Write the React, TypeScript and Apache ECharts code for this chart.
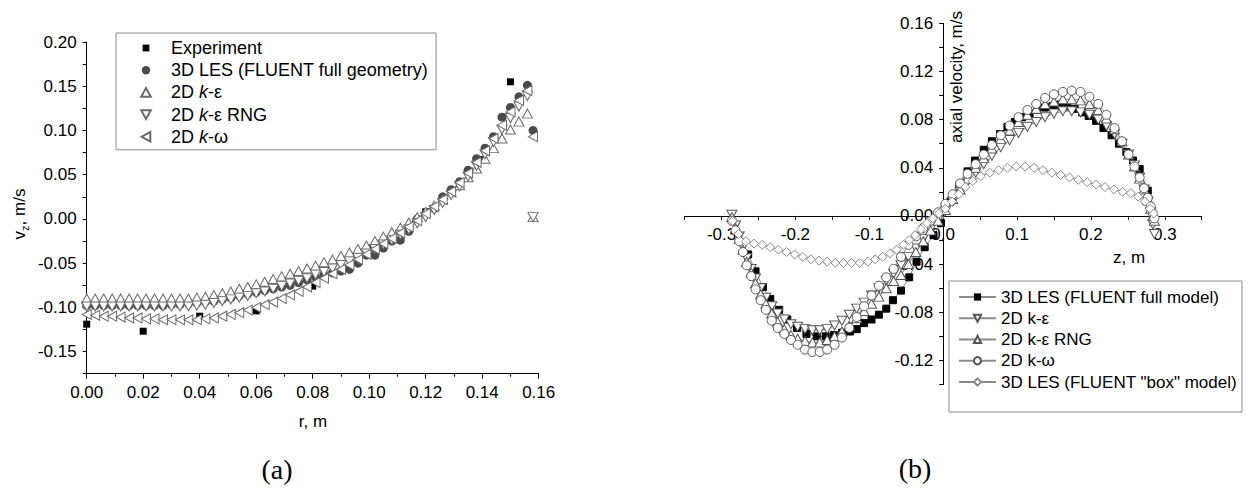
import React, { useEffect, useRef } from 'react';
import * as echarts from 'echarts';

const FONT = '"Liberation Sans", Arial, Helvetica, sans-serif';
const SERIF = '"Liberation Serif", "Times New Roman", serif';

// ---------- Panel (a): v_z vs r ----------
const R_EXP = [0, 0.02, 0.04, 0.06, 0.08, 0.10, 0.12, 0.14, 0.15];
const V_EXP = [-0.119, -0.127, -0.110, -0.104, -0.076, -0.033, 0.008, 0.067, 0.155];

const R_MODEL = [0, 0.003, 0.006, 0.009, 0.012, 0.015, 0.018, 0.021, 0.024, 0.027, 0.03, 0.033, 0.036, 0.039,
  0.042, 0.045, 0.048, 0.051, 0.054, 0.057, 0.06, 0.063, 0.066, 0.069, 0.072, 0.075, 0.078, 0.081, 0.084,
  0.087, 0.09, 0.093, 0.096, 0.099, 0.102, 0.105, 0.108, 0.111, 0.114, 0.117, 0.12, 0.123, 0.126, 0.129,
  0.132, 0.135, 0.138, 0.141, 0.144, 0.147, 0.15, 0.153, 0.156, 0.158];

const V_LES_A = [-0.098, -0.098, -0.098, -0.098, -0.098, -0.098, -0.098, -0.098, -0.098, -0.098, -0.097, -0.097,
  -0.096, -0.095, -0.094, -0.093, -0.091, -0.089, -0.087, -0.085, -0.083, -0.081, -0.079, -0.077, -0.075,
  -0.072, -0.069, -0.066, -0.063, -0.061, -0.059, -0.057, -0.050, -0.041, -0.041, -0.033, -0.025, -0.024,
  -0.014, 0.000, 0.006, 0.012, 0.025, 0.033, 0.042, 0.055, 0.068, 0.080, 0.093, 0.115, 0.126, 0.138, 0.151, 0.100];

const V_KE_A = [-0.090, -0.090, -0.090, -0.090, -0.090, -0.090, -0.090, -0.090, -0.090, -0.090, -0.090, -0.090,
  -0.090, -0.089, -0.088, -0.086, -0.084, -0.082, -0.079, -0.077, -0.074, -0.071, -0.068, -0.065, -0.062,
  -0.059, -0.056, -0.053, -0.049, -0.046, -0.042, -0.038, -0.034, -0.030, -0.025, -0.020, -0.015, -0.010,
  -0.004, 0.002, 0.008, 0.015, 0.022, 0.030, 0.038, 0.047, 0.057, 0.068, 0.080, 0.091, 0.101, 0.110, 0.119, 0.002];

const V_RNG_A = [-0.099, -0.099, -0.099, -0.099, -0.099, -0.099, -0.099, -0.099, -0.099, -0.099, -0.099, -0.099,
  -0.099, -0.098, -0.097, -0.095, -0.093, -0.091, -0.089, -0.087, -0.084, -0.082, -0.079, -0.076, -0.073,
  -0.070, -0.067, -0.063, -0.060, -0.056, -0.052, -0.048, -0.044, -0.039, -0.034, -0.029, -0.024, -0.018,
  -0.012, -0.005, 0.002, 0.010, 0.018, 0.027, 0.037, 0.048, 0.060, 0.073, 0.087, 0.101, 0.114, 0.127, 0.139, 0.002];

const V_KW_A = [-0.108, -0.109, -0.110, -0.110, -0.111, -0.112, -0.112, -0.113, -0.113, -0.114, -0.114, -0.114,
  -0.114, -0.114, -0.113, -0.112, -0.110, -0.108, -0.106, -0.103, -0.100, -0.097, -0.094, -0.090, -0.086,
  -0.082, -0.077, -0.072, -0.067, -0.062, -0.057, -0.052, -0.046, -0.040, -0.034, -0.028, -0.022, -0.016,
  -0.009, -0.002, 0.006, 0.014, 0.022, 0.031, 0.041, 0.052, 0.064, 0.077, 0.091, 0.106, 0.121, 0.134, 0.145, 0.093];

// ---------- Panel (b): axial velocity vs z ----------
const Z_FULL = [-0.264, -0.254, -0.244, -0.234, -0.222, -0.211, -0.198, -0.185, -0.171, -0.159, -0.148, -0.137,
  -0.126, -0.117, -0.107, -0.097, -0.087, -0.077, -0.068, -0.057, -0.046, -0.036, -0.025, -0.013, -0.003,
  0.010, 0.022, 0.033, 0.043, 0.055, 0.066, 0.077, 0.087, 0.097, 0.107, 0.117, 0.127, 0.138, 0.148, 0.158,
  0.168, 0.178, 0.188, 0.197, 0.207, 0.217, 0.228, 0.238, 0.248, 0.257, 0.266, 0.277];
const V_FULL = [-0.032, -0.046, -0.059, -0.069, -0.078, -0.086, -0.093, -0.098, -0.100, -0.100, -0.099, -0.097,
  -0.096, -0.094, -0.089, -0.086, -0.082, -0.077, -0.070, -0.062, -0.051, -0.038, -0.026, -0.016, -0.006,
  0.012, 0.025, 0.037, 0.046, 0.055, 0.062, 0.068, 0.074, 0.078, 0.082, 0.085, 0.088, 0.090, 0.091, 0.092,
  0.091, 0.089, 0.086, 0.083, 0.079, 0.073, 0.067, 0.060, 0.053, 0.046, 0.039, 0.021];

const Z_MODEL = [-0.286, -0.281, -0.276, -0.271, -0.266, -0.260, -0.254, -0.247, -0.240, -0.232, -0.224, -0.215,
  -0.206, -0.197, -0.187, -0.177, -0.167, -0.157, -0.147, -0.137, -0.127, -0.117, -0.107, -0.097, -0.087,
  -0.077, -0.067, -0.057, -0.047, -0.037, -0.027, -0.017, -0.007, 0.003, 0.013, 0.023, 0.033, 0.044, 0.055,
  0.066, 0.078, 0.090, 0.102, 0.114, 0.126, 0.138, 0.150, 0.162, 0.174, 0.186, 0.198, 0.210, 0.221, 0.232,
  0.242, 0.251, 0.259, 0.266, 0.272, 0.277, 0.281, 0.284, 0.286];

const V_KE_B = [0.001, -0.008, -0.017, -0.026, -0.035, -0.044, -0.052, -0.060, -0.068, -0.075, -0.081, -0.086,
  -0.090, -0.092, -0.094, -0.095, -0.095, -0.094, -0.091, -0.087, -0.082, -0.077, -0.072, -0.066, -0.060,
  -0.054, -0.048, -0.041, -0.034, -0.027, -0.019, -0.011, -0.003, 0.004, 0.012, 0.020, 0.028, 0.036, 0.043,
  0.050, 0.057, 0.063, 0.069, 0.074, 0.078, 0.082, 0.085, 0.087, 0.087, 0.086, 0.084, 0.080, 0.075, 0.068,
  0.060, 0.051, 0.042, 0.032, 0.022, 0.012, 0.003, -0.007, -0.015];

const V_RNG_B = [-0.001, -0.010, -0.019, -0.028, -0.038, -0.047, -0.056, -0.065, -0.073, -0.081, -0.088, -0.094,
  -0.099, -0.102, -0.104, -0.105, -0.105, -0.103, -0.100, -0.096, -0.091, -0.085, -0.079, -0.073, -0.067,
  -0.060, -0.054, -0.049, -0.040, -0.030, -0.021, -0.012, -0.004, 0.005, 0.014, 0.022, 0.031, 0.040, 0.048,
  0.056, 0.064, 0.071, 0.078, 0.084, 0.089, 0.093, 0.095, 0.097, 0.097, 0.096, 0.093, 0.088, 0.081, 0.072,
  0.062, 0.051, 0.041, 0.031, 0.022, 0.013, 0.006, 0.000, -0.004];

const V_KW_B = [-0.004, -0.012, -0.021, -0.030, -0.041, -0.050, -0.061, -0.070, -0.078, -0.087, -0.093, -0.098,
  -0.103, -0.107, -0.111, -0.113, -0.113, -0.111, -0.107, -0.101, -0.093, -0.084, -0.075, -0.066, -0.058,
  -0.051, -0.044, -0.034, -0.024, -0.017, -0.010, -0.004, 0.003, 0.010, 0.018, 0.027, 0.035, 0.043, 0.051,
  0.059, 0.067, 0.075, 0.082, 0.088, 0.093, 0.098, 0.101, 0.103, 0.104, 0.103, 0.099, 0.093, 0.084, 0.073,
  0.062, 0.051, 0.041, 0.032, 0.023, 0.015, 0.008, 0.002, -0.002];

const Z_BOX = [-0.285, -0.277, -0.267, -0.256, -0.245, -0.234, -0.223, -0.212, -0.201, -0.190, -0.179, -0.168,
  -0.157, -0.146, -0.135, -0.124, -0.113, -0.102, -0.092, -0.082, -0.072, -0.063, -0.054, -0.046, -0.038,
  -0.030, -0.022, -0.014, -0.006, 0.003, 0.012, 0.021, 0.030, 0.040, 0.051, 0.063, 0.075, 0.087, 0.099,
  0.111, 0.123, 0.135, 0.147, 0.159, 0.171, 0.183, 0.195, 0.207, 0.219, 0.231, 0.243, 0.254, 0.264, 0.273,
  0.280, 0.285];
const V_BOX = [-0.004, -0.015, -0.021, -0.023, -0.024, -0.026, -0.028, -0.030, -0.032, -0.034, -0.036, -0.037,
  -0.038, -0.039, -0.039, -0.039, -0.039, -0.038, -0.036, -0.034, -0.031, -0.028, -0.024, -0.020, -0.016,
  -0.011, -0.006, -0.002, 0.002, 0.006, 0.012, 0.018, 0.024, 0.029, 0.033, 0.036, 0.038, 0.040, 0.041,
  0.041, 0.040, 0.038, 0.036, 0.034, 0.032, 0.030, 0.028, 0.026, 0.024, 0.022, 0.020, 0.019, 0.016, 0.012,
  0.006, 0.002];

// legend names / display labels
const NAMES_A = ['Experiment', '3D LES (FLUENT full geometry)', '2D k-ε (a)', '2D k-ε RNG (a)', '2D k-ω (a)'];
const LABELS_A = ['Experiment', '3D LES (FLUENT full geometry)', '2D {i|k}-ε', '2D {i|k}-ε RNG', '2D {i|k}-ω'];
const NAMES_B = ['3D LES (FLUENT full model)', '2D k-ε (b)', '2D k-ε RNG (b)', '2D k-ω (b)', '3D LES (FLUENT "box" model)'];
const LABELS_B = ['3D LES (FLUENT full model)', '2D k-ε', '2D k-ε RNG', '2D k-ω', '3D LES (FLUENT "box" model)'];

const zip = (xs: number[], ys: number[]) => xs.map((x, i) => [x, ys[i]]);

const DOWN = 'path://M0,0L10,0L5,8.66Z';
const LEFT = 'path://M8.66,0L8.66,10L0,5Z';

// legend icons drawn inside a 40x10 box (icon centred at x=20)
const ICON_SQ = 'path://M0,0M40,10M16.6,1.6h6.8v6.8h-6.8z';
const ICON_CI = 'path://M0,0M40,10M24.2,5A4.2,4.2,0,1,1,15.8,5A4.2,4.2,0,1,1,24.2,5z';
const ICON_UP = 'path://M0,0M40,10M15.2,9.4L24.8,9.4L20,0.6z';
const ICON_DN = 'path://M0,0M40,10M15.2,0.6L24.8,0.6L20,9.4z';
const ICON_LT = 'path://M0,0M40,10M24.3,0.2L24.3,9.8L15.7,5z';

const isMult = (v: number, step: number) => Math.abs(v / step - Math.round(v / step)) < 1e-6;

const lineStyleBlack = { color: '#000', width: 1 };
const labelBase = { color: '#000', fontSize: 17, fontFamily: FONT };

// grid geometry of panel (b)
const GB = { left: 684.6, top: 23.3, width: 517.1, height: 361.2 };
const X_MIN_B = -0.35, X_MAX_B = 0.35, Y_MIN_B = -0.14, Y_MAX_B = 0.16;

function buildOption() {
  const openA = { color: '#fff', borderColor: '#6a6a6a', borderWidth: 1, opacity: 1 };
  const openB = { color: '#fff', borderColor: '#555', borderWidth: 1, opacity: 1 };
  const lineB = { color: '#8c8c8c', width: 1 };
  // put axes of panel (b) through the origin
  const zeroY = GB.top + GB.height * (Y_MAX_B / (Y_MAX_B - Y_MIN_B));
  const zeroX = GB.left + GB.width * ((0 - X_MIN_B) / (X_MAX_B - X_MIN_B));
  const xOffB = -(GB.top + GB.height - zeroY);
  const yOffB = -(zeroX - GB.left);
  return {
    animation: false,
    backgroundColor: '#fff',
    textStyle: { fontFamily: FONT },
    grid: [
      { left: 86.7, top: 42, width: 452, height: 331.7, containLabel: false },
      { ...GB, containLabel: false },
    ],
    xAxis: [
      {
        type: 'value', gridIndex: 0, min: 0, max: 0.16, interval: 0.02,
        axisLine: { show: true, onZero: false, lineStyle: lineStyleBlack },
        axisTick: { show: true, length: 5, lineStyle: lineStyleBlack },
        minorTick: { show: true, splitNumber: 2, length: 3, lineStyle: lineStyleBlack },
        axisLabel: { ...labelBase, margin: 10, formatter: (v: number) => v.toFixed(2) },
        splitLine: { show: false },
      },
      {
        type: 'value', gridIndex: 1, min: X_MIN_B, max: X_MAX_B, interval: 0.05,
        position: 'bottom', offset: xOffB,
        axisLine: { show: true, onZero: false, lineStyle: lineStyleBlack },
        axisTick: { show: true, length: 4, lineStyle: lineStyleBlack },
        axisLabel: {
          ...labelBase, margin: 10,
          formatter: (v: number) => (isMult(v, 0.1) && Math.abs(v) < 0.34 ? v.toFixed(1) : ''),
        },
        splitLine: { show: false },
      },
    ],
    yAxis: [
      {
        type: 'value', gridIndex: 0, min: -0.175, max: 0.2, interval: 0.025,
        axisLine: { show: true, onZero: false, lineStyle: lineStyleBlack },
        axisTick: { show: true, length: 4, lineStyle: lineStyleBlack },
        axisLabel: { ...labelBase, margin: 10, formatter: (v: number) => (isMult(v, 0.05) ? v.toFixed(2) : '') },
        splitLine: { show: false },
      },
      {
        type: 'value', gridIndex: 1, min: Y_MIN_B, max: Y_MAX_B, interval: 0.02,
        position: 'left', offset: yOffB,
        axisLine: { show: true, onZero: false, lineStyle: lineStyleBlack },
        axisTick: { show: true, length: 4, lineStyle: lineStyleBlack },
        axisLabel: { ...labelBase, margin: 10, formatter: (v: number) => (isMult(v, 0.04) ? v.toFixed(2) : '') },
        splitLine: { show: false },
      },
    ],
    legend: [
      {
        data: [
          { name: NAMES_A[0], icon: ICON_SQ },
          { name: NAMES_A[1], icon: ICON_CI },
          { name: NAMES_A[2], icon: ICON_UP },
          { name: NAMES_A[3], icon: ICON_DN },
          { name: NAMES_A[4], icon: ICON_LT },
        ],
        orient: 'vertical', left: 116, top: 33, selectedMode: false,
        padding: [6, 8, 4, 9], itemWidth: 40, itemHeight: 10, itemGap: 4.2,
        borderColor: '#8a8a8a', borderWidth: 1, backgroundColor: '#fff',
        formatter: (name: string) => LABELS_A[NAMES_A.indexOf(name)],
        textStyle: {
          color: '#000', fontSize: 18, fontFamily: FONT, lineHeight: 18,
          rich: { i: { fontStyle: 'italic', fontSize: 18, fontFamily: FONT, color: '#000', lineHeight: 18 } },
        },
      },
      {
        data: NAMES_B,
        orient: 'vertical', left: 949, top: 281, selectedMode: false,
        padding: [7, 5, 21, 9], itemWidth: 37, itemHeight: 9, itemGap: 3.25,
        borderColor: '#8a8a8a', borderWidth: 1, backgroundColor: '#fff',
        formatter: (name: string) => LABELS_B[NAMES_B.indexOf(name)],
        textStyle: { ...labelBase, lineHeight: 18 },
      },
    ],
    graphic: [
      { type: 'text', x: 313, y: 421, silent: true,
        style: { text: 'r, m', fontSize: 17, fontFamily: FONT, fill: '#000', align: 'center', verticalAlign: 'middle', textAlign: 'center', textVerticalAlign: 'middle' } },
      { type: 'text', x: 277, y: 469, silent: true,
        style: { text: '(a)', fontSize: 28, fontFamily: SERIF, fill: '#000', align: 'center', verticalAlign: 'middle', textAlign: 'center', textVerticalAlign: 'middle' } },
      { type: 'text', x: 19, y: 214, rotation: Math.PI / 2, silent: true,
        style: {
          text: '{m|v}{s|z}{m|, m/s}', fill: '#000', align: 'center', verticalAlign: 'middle', textAlign: 'center', textVerticalAlign: 'middle',
          rich: {
            m: { fontSize: 17, fontFamily: FONT, fill: '#000', lineHeight: 22 },
            s: { fontSize: 11, fontFamily: FONT, fill: '#000', verticalAlign: 'bottom', lineHeight: 14 },
          },
        } },
      { type: 'text', x: 1129, y: 257, silent: true,
        style: { text: 'z, m', fontSize: 17, fontFamily: FONT, fill: '#000', align: 'center', verticalAlign: 'middle', textAlign: 'center', textVerticalAlign: 'middle' } },
      { type: 'text', x: 956.5, y: 77, rotation: Math.PI / 2, silent: true,
        style: { text: 'axial velocity, m/s', fontSize: 17, fontFamily: FONT, fill: '#000', align: 'center', verticalAlign: 'middle', textAlign: 'center', textVerticalAlign: 'middle' } },
      { type: 'text', x: 915, y: 468, silent: true,
        style: { text: '(b)', fontSize: 28, fontFamily: SERIF, fill: '#000', align: 'center', verticalAlign: 'middle', textAlign: 'center', textVerticalAlign: 'middle' } },
    ],
    series: [
      { type: 'scatter', name: NAMES_A[0], xAxisIndex: 0, yAxisIndex: 0, symbol: 'rect', symbolSize: 7,
        itemStyle: { color: '#000', opacity: 1 }, data: zip(R_EXP, V_EXP) },
      { type: 'scatter', name: NAMES_A[1], xAxisIndex: 0, yAxisIndex: 0, symbol: 'circle', symbolSize: 9,
        itemStyle: { color: '#4a4a4a', opacity: 1 }, data: zip(R_MODEL, V_LES_A) },
      { type: 'scatter', name: NAMES_A[2], xAxisIndex: 0, yAxisIndex: 0, symbol: 'triangle', symbolSize: [10, 9],
        itemStyle: openA, data: zip(R_MODEL, V_KE_A) },
      { type: 'scatter', name: NAMES_A[3], xAxisIndex: 0, yAxisIndex: 0, symbol: DOWN, symbolSize: [10, 9],
        itemStyle: openA, data: zip(R_MODEL, V_RNG_A) },
      { type: 'scatter', name: NAMES_A[4], xAxisIndex: 0, yAxisIndex: 0, symbol: LEFT, symbolSize: [9, 10],
        itemStyle: openA, data: zip(R_MODEL, V_KW_A) },

      { type: 'line', name: NAMES_B[0], xAxisIndex: 1, yAxisIndex: 1, symbol: 'rect', symbolSize: 7,
        showSymbol: true, showAllSymbol: true, lineStyle: lineB, itemStyle: { color: '#000', borderColor: '#000' },
        data: zip(Z_FULL, V_FULL) },
      { type: 'line', name: NAMES_B[1], xAxisIndex: 1, yAxisIndex: 1, symbol: DOWN, symbolSize: [10, 9],
        showSymbol: true, showAllSymbol: true, lineStyle: lineB, itemStyle: openB, data: zip(Z_MODEL, V_KE_B) },
      { type: 'line', name: NAMES_B[2], xAxisIndex: 1, yAxisIndex: 1, symbol: 'triangle', symbolSize: [10, 9],
        showSymbol: true, showAllSymbol: true, lineStyle: lineB, itemStyle: openB, data: zip(Z_MODEL, V_RNG_B) },
      { type: 'line', name: NAMES_B[3], xAxisIndex: 1, yAxisIndex: 1, symbol: 'circle', symbolSize: 9,
        showSymbol: true, showAllSymbol: true, lineStyle: lineB, itemStyle: openB, data: zip(Z_MODEL, V_KW_B) },
      { type: 'line', name: NAMES_B[4], xAxisIndex: 1, yAxisIndex: 1, symbol: 'diamond', symbolSize: [9, 9],
        showSymbol: true, showAllSymbol: true, lineStyle: lineB,
        itemStyle: { color: '#fff', borderColor: '#8a8a8a', borderWidth: 1 }, data: zip(Z_BOX, V_BOX) },
    ],
  };
}

export default function App() {
  const ref = useRef<HTMLDivElement>(null);
  useEffect(() => {
    if (!ref.current) return;
    const chart = echarts.init(ref.current, null, { renderer: 'svg' });
    chart.setOption(buildOption() as any);
    return () => chart.dispose();
  }, []);
  return (
    <div
      ref={ref}
      style={{ position: 'absolute', left: 0, top: 0, width: 1256, height: 488, background: '#fff' }}
    />
  );
}
